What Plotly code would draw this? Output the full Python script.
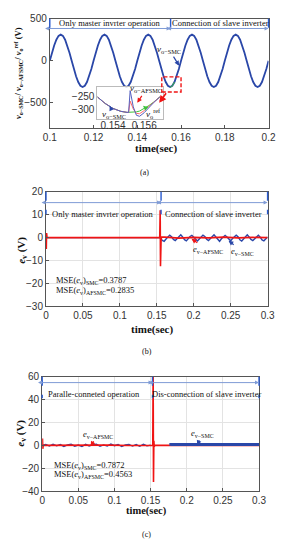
import numpy as np
import plotly.graph_objects as go

W, H = 286, 550

# ---------------- data ----------------
# (a) output voltage, 0.1..0.2 s sampled every 1 ms
t_a = np.round(np.arange(0.100, 0.2001, 0.001), 4)
v_smc_a = [0, 96, 183, 251, 296, 311, 296, 251, 183, 96, 0, -96, -183, -251, -296, -311, -296, -251, -183, -96,
           0, 96, 183, 251, 296, 311, 296, 251, 183, 96, 0, -96, -183, -251, -296, -311, -296, -251, -183, -96,
           0, 96, 183, 251, 296, 311, 296, 251, 183, 96, 0, -96, -183, -251, -296, -311, -296, -251, -183, -96,
           0, 96, 183, 251, 296, 311, 296, 251, 183, 96, 0, -96, -183, -251, -296, -311, -296, -251, -183, -96,
           0, 96, 183, 251, 296, 311, 296, 251, 183, 96, 0, -96, -183, -251, -296, -311, -296, -251, -183, -96,
           0]
# zoomed detail around connection instant
t_zoom = [0.1530, 0.1535, 0.1540, 0.1545, 0.1549, 0.1550, 0.1551, 0.1553, 0.1555, 0.1557, 0.1560, 0.1563, 0.1566, 0.1570]
v_ref_zoom = [-252, -277, -296, -307, -311, -311, -311, -310, -309, -306, -296, -285, -272, -252]
v_smc_zoom = [-252, -277, -296, -307, -311, -311, -228, -290, -322, -326, -312, -292, -274, -252]
v_afsmc_zoom = [-252, -277, -296, -307, -311, -311, -268, -298, -315, -316, -304, -288, -273, -252]

# (b) voltage error, master only -> slave connected
t_b_afsmc = [0.0, 0.0004, 0.0008, 0.0014, 0.05, 0.1, 0.154, 0.1546, 0.1550, 0.1554, 0.1558, 0.1565, 0.16,
             0.18, 0.2, 0.22, 0.24, 0.26, 0.28, 0.3]
e_b_afsmc = [0.0, -5.0, 2.0, 0.0, 0.1, 0.0, 0.0, 12.0, -12.5, 2.5, -1.0, 0.3, 0.2,
             -0.2, 0.1, -0.1, 0.2, -0.1, 0.1, 0.0]
e_b_smc_post = [-1.2, -1.6, -0.6, 0.5, 1.1, 0.4, -0.8, -1.3, -0.5, 0.6, 1.2, 0.3, -0.9, -1.4, -0.4, 0.5,
                1.0, 0.2, -1.0, -1.5, -0.6, 0.4, 1.1, 0.5, -0.7, -1.3, -0.5, 0.6, 1.2, 0.3, -0.9, -1.6,
                -0.5, 0.5, 1.0, 0.3, -0.8, -1.4, -0.4, 0.6, 1.1, 0.4, -0.9, -1.5, -0.6, 0.5, 1.2, 0.3,
                -0.8, -1.3, -0.5, 0.6, 1.0, 0.2, -1.0, -1.4, -0.4, 0.3]
t_b_smc_post = np.round(0.1575 + 0.0025 * np.arange(len(e_b_smc_post)), 4)

# (c) voltage error, parallel -> slave disconnected
e_c_smc_pre = [0.0, 0.8, -0.6, 1.0, -0.4, 0.7, -0.9, 0.5, 1.1, -0.7, 0.3, -1.0, 0.9, -0.5, 0.6, 1.0,
               -0.8, 0.4, -0.6, 1.1, -0.3, 0.8, -1.0, 0.5, 0.9, -0.6, 0.7, -0.8, 1.0, -0.4, 0.2]
t_c_smc_pre = np.round(0.005 * np.arange(len(e_c_smc_pre)), 4)
t_c_smc_post = [0.178, 0.178, 0.3]
e_c_smc_post = [-0.2, 0.8, 0.8]
t_c_afsmc = [0.0, 0.0004, 0.0008, 0.0014, 0.03, 0.06, 0.09, 0.12, 0.153, 0.1535, 0.1540, 0.1545, 0.155,
             0.156, 0.16, 0.2, 0.25, 0.3]
e_c_afsmc = [0.0, 6.0, -3.0, 0.0, 0.2, -0.2, 0.2, -0.1, 0.0, 64.0, -32.0, 4.0, -1.0,
             0.0, 0.0, 0.0, 0.0, 0.0]

BLUE = "#2a47a8"
RED = "#f01414"
GREEN = "#3cc23c"
DASH = "#2a5bd0"
ARR = "#7f9bd6"
SERIF = "Liberation Serif"
SANS = "Liberation Sans"


def px(x, y):
    return x / W, 1 - y / H


fig = go.Figure()

# (a)
fig.add_trace(go.Scatter(x=t_a, y=v_smc_a, mode="lines", line=dict(color=BLUE, width=1.8),
                         xaxis="x", yaxis="y", showlegend=False))
fig.add_trace(go.Scatter(x=t_zoom[5:], y=v_ref_zoom[5:], mode="lines", line=dict(color=GREEN, width=1),
                         xaxis="x", yaxis="y", showlegend=False))
# inset
fig.add_trace(go.Scatter(x=t_zoom, y=v_ref_zoom, mode="lines", line=dict(color=GREEN, width=1),
                         xaxis="x4", yaxis="y4", showlegend=False))
fig.add_trace(go.Scatter(x=t_zoom, y=v_afsmc_zoom, mode="lines", line=dict(color="#ff6a6a", width=1),
                         xaxis="x4", yaxis="y4", showlegend=False))
fig.add_trace(go.Scatter(x=t_zoom, y=v_smc_zoom, mode="lines", line=dict(color="#5560c0", width=1),
                         xaxis="x4", yaxis="y4", showlegend=False))

# (b)
fig.add_trace(go.Scatter(x=[0.0, 0.154] + list(t_b_smc_post), y=[0.0, 0.0] + e_b_smc_post, mode="lines",
                         line=dict(color=BLUE, width=1.4), xaxis="x2", yaxis="y2", showlegend=False))
fig.add_trace(go.Scatter(x=t_b_afsmc, y=e_b_afsmc, mode="lines", line=dict(color=RED, width=1.6),
                         xaxis="x2", yaxis="y2", showlegend=False))

# (c)
fig.add_trace(go.Scatter(x=t_c_smc_pre, y=e_c_smc_pre, mode="lines", line=dict(color=BLUE, width=1.4),
                         xaxis="x3", yaxis="y3", showlegend=False))
fig.add_trace(go.Scatter(x=t_c_afsmc, y=e_c_afsmc, mode="lines", line=dict(color=RED, width=1.6),
                         xaxis="x3", yaxis="y3", showlegend=False))
fig.add_trace(go.Scatter(x=t_c_smc_post, y=e_c_smc_post, mode="lines", line=dict(color=BLUE, width=3),
                         xaxis="x3", yaxis="y3", showlegend=False))

ax_common = dict(showline=True, mirror=True, linecolor="#555", linewidth=1, ticks="inside", ticklen=3,
                 tickcolor="#555", zeroline=False, tickfont=dict(family=SANS, size=10, color="#333"))

fig.update_layout(
    width=W, height=H, autosize=False, margin=dict(l=0, r=0, t=0, b=0),
    paper_bgcolor="white", plot_bgcolor="white",
    xaxis=dict(domain=[45 / W, 275 / W], range=[0.1, 0.2], dtick=0.02, showgrid=False, anchor="y", **ax_common),
    yaxis=dict(domain=[1 - 125 / H, 1 - 13 / H], range=[-800, 500], tickvals=[-500, 0, 500], showgrid=False,
               anchor="x", **ax_common),
    xaxis2=dict(domain=[41 / W, 274 / W], range=[0, 0.3], dtick=0.05, showgrid=True, gridcolor="#e3e3e3",
                anchor="y2", **ax_common),
    yaxis2=dict(domain=[1 - 307 / H, 1 - 190 / H], range=[-30, 20], dtick=10, showgrid=True, gridcolor="#e3e3e3",
                anchor="x2", **ax_common),
    xaxis3=dict(domain=[37 / W, 265 / W], range=[0, 0.3], dtick=0.05, showgrid=True, gridcolor="#e3e3e3",
                anchor="y3", **ax_common),
    yaxis3=dict(domain=[1 - 496 / H, 1 - 379 / H], range=[-40, 60], dtick=20, showgrid=True, gridcolor="#e3e3e3",
                anchor="x3", **ax_common),
    xaxis4=dict(domain=[95 / W, 164 / W], range=[0.153, 0.1572], tickvals=[0.154, 0.156], showline=True,
                mirror=True, linecolor="#bbb", ticks="", zeroline=False, showgrid=False, anchor="y4",
                ticklabelstandoff=-3,
                tickfont=dict(family=SANS, size=10, color="#333")),
    yaxis4=dict(domain=[1 - 116 / H, 1 - 83 / H], range=[-338, -215], tickvals=[-300, -250], showline=True,
                mirror=True, linecolor="#bbb", ticks="", zeroline=False, showgrid=False, anchor="x4",
                tickfont=dict(family=SANS, size=10, color="#333")),
)

ann = []
shapes = []


def text(x, y, s, size=8.5, xanchor="center", color="#111", angle=0, family=SERIF):
    X, Y = px(x, y)
    ann.append(dict(x=X, y=Y, xref="paper", yref="paper", text=s, showarrow=False, xanchor=xanchor,
                    yanchor="middle", textangle=angle, font=dict(family=family, size=size, color=color)))


def darrow(x0, x1, y):
    X1, Y = px(x1, y)
    ann.append(dict(x=X1, y=Y, xref="paper", yref="paper", ax=x0 - x1, ay=0, text="", showarrow=True,
                    arrowside="end+start", arrowhead=2, arrowsize=0.8, arrowwidth=1, arrowcolor=ARR))


def pointer(lx, ly, tx, ty, s, color, size=8.5):
    X, Y = px(tx, ty)
    ann.append(dict(x=X, y=Y, xref="paper", yref="paper", ax=lx - tx, ay=ly - ty, text=s, showarrow=True,
                    arrowhead=2, arrowsize=0.8, arrowwidth=1.2, arrowcolor=color, standoff=0,
                    font=dict(family=SERIF, size=size, color="#111")))


def vdash(x, y0, y1):
    X, Y0 = px(x, y0)
    _, Y1 = px(x, y1)
    shapes.append(dict(type="line", xref="paper", yref="paper", x0=X, x1=X, y0=Y0, y1=Y1,
                       line=dict(color=DASH, width=1.4, dash="dash")))


# ---- (a) annotations
for xx in (45, 172, 275):
    vdash(xx, 13, 28)
darrow(45, 172, 23)
darrow(172, 275, 23)
text(108, 17, "Only master invrter operation")
text(224, 17, "Connection of slave inverter")
pointer(171, 45, 181, 61, "<i>v</i><sub>o−SMC</sub>", BLUE, size=9)
shapes.append(dict(type="rect", xref="x", yref="y", x0=0.1512, x1=0.1600, y0=-370, y1=-190,
                   line=dict(color=RED, width=1.4, dash="4px,2px")))
ann.append(dict(x=px(160, 99)[0], y=px(160, 99)[1], xref="paper", yref="paper", ax=8, ay=-11, text="",
                showarrow=True, arrowhead=2, arrowsize=0.9, arrowwidth=1.6, arrowcolor=RED))
pointer(146, 85, 137, 99, "<i>v</i><sub>o−AFSMC</sub>", RED, size=9)
pointer(112, 111, 108, 102, "<i>v</i><sub>o−SMC</sub>", BLUE, size=9)
pointer(153, 110, 143, 102, "<i>v</i><sub>o</sub><sup>ref</sup>", GREEN, size=9)
text(157, 146, "<b>time(sec)</b>", size=11)
text(145, 170, "(a)", size=8)
text(12, 68, "<b><i>v</i><sub>o−SMC</sub>/ <i>v</i><sub>o−AFSMC</sub>/ <i>v</i><sub>o</sub><sup>ref</sup> (V)</b>",
     size=8.5, angle=-90)

# ---- (b) annotations
for xx in (41, 162, 274):
    vdash(xx, 190, 213)
darrow(41, 162, 201)
darrow(162, 274, 201)
text(101, 213, "Only master invrter operation")
text(217, 213, "Connection of slave inverter")
pointer(210, 249, 194, 238, "<i>e</i><sub>v−AFSMC</sub>", RED)
pointer(247, 251, 233, 240, "<i>e</i><sub>v−SMC</sub>", BLUE)
text(49, 281, "MSE(<i>e</i><sub>v</sub>)<sub>SMC</sub>=0.3787", xanchor="left")
text(49, 291, "MSE(<i>e</i><sub>v</sub>)<sub>AFSMC</sub>=0.2835", xanchor="left")
text(152, 331, "<b>time(sec)</b>", size=11)
text(147, 353, "(b)", size=8)
text(15, 250, "<b><i>e</i><sub>v</sub> (V)</b>", size=11, angle=-90)

# ---- (c) annotations
for xx in (37, 153, 265):
    vdash(xx, 379, 401)
darrow(37, 153, 385)
darrow(153, 265, 385)
text(91, 397, "Paralle-conneted operation")
text(210, 397, "Dis-connection of slave inverter")
pointer(95, 438, 88, 450, "<i>e</i><sub>v−AFSMC</sub>", RED)
pointer(205, 437, 200, 449, "<i>e</i><sub>v−SMC</sub>", BLUE)
text(47, 470, "MSE(<i>e</i><sub>v</sub>)<sub>SMC</sub>=0.7872", xanchor="left")
text(47, 479, "MSE(<i>e</i><sub>v</sub>)<sub>AFSMC</sub>=0.4563", xanchor="left")
text(147, 516, "<b>time(sec)</b>", size=10.5)
text(147, 540, "(c)", size=8)
text(15, 437, "<b><i>e</i><sub>v</sub> (V)</b>", size=11, angle=-90)

fig.update_layout(annotations=ann, shapes=shapes)
fig.write_html("out.html", config={"displayModeBar": False},
               post_script="document.body.style.margin='0';document.body.style.overflow='hidden';")
